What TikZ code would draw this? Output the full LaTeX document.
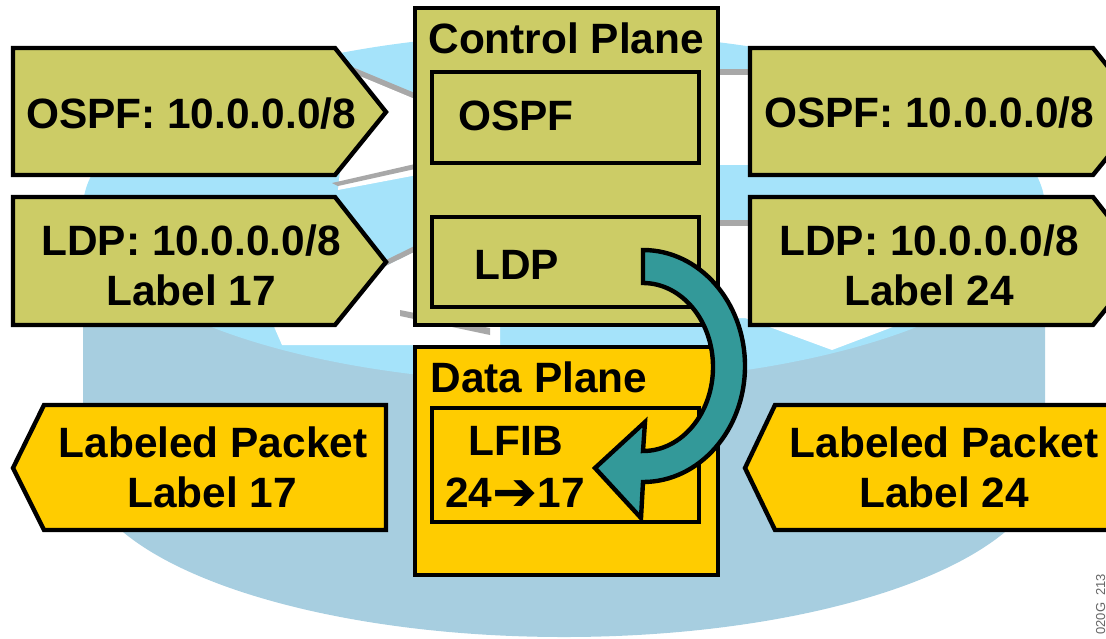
\documentclass[tikz,border=0pt]{standalone}
\usepackage{fontspec}
\setmainfont{Liberation Sans}
\newfontfamily\symfont{DejaVu Sans}
\usetikzlibrary{positioning}
\definecolor{olivefill}{HTML}{CCCC66}
\definecolor{goldfill}{HTML}{FFCC00}
\definecolor{tealfill}{HTML}{339999}
\definecolor{topblue}{HTML}{A5E3FA}
\definecolor{sideblue}{HTML}{A7CEE0}
\definecolor{shadowgrey}{HTML}{A8A8A8}
\tikzstyle{box}=[draw=black,line width=2.2pt,line join=miter]
\tikzstyle{txt}=[inner sep=0pt,anchor=base,font=\fontsize{21.2}{24}\selectfont\bfseries]

\begin{document}
\begin{tikzpicture}[x=0.5pt,y=-0.5pt]
\useasboundingbox (0,0) rectangle (1106,638);
\clip (0,0) rectangle (1106,638);
% router body
\fill[sideblue] (83,208) -- (83,462) arc[start angle=180,end angle=0,x radius=481,y radius=175] -- (1045,208) -- cycle;
\fill[topblue] (564,208) ellipse[x radius=481,y radius=175];
\begin{scope}
  \clip (564,208) ellipse[x radius=481,y radius=175];
  % arrows on top of the router
  \fill[shadowgrey] (350,66) -- (470,116) -- (470,124) -- (350,74) -- cycle;
  \fill[white] (350,72) -- (470,122) -- (470,165) -- (338,190) -- cycle;
  \fill[shadowgrey] (332,183) -- (415,164) -- (415,169) -- (338,186) -- cycle;
  \fill[shadowgrey] (500,204) -- (272,316) -- (272,322) -- (500,210) -- cycle;
  \fill[white] (500,210) -- (500,345) -- (282,345) -- (272,322) -- cycle;
  \fill[shadowgrey] (400,310) -- (490,328) -- (490,335) -- (400,316) -- cycle;
  \fill[shadowgrey] (700,69) -- (780,69) -- (780,75) -- (700,75) -- cycle;
  \fill[white] (700,75) -- (780,75) -- (780,165) -- (700,165) -- cycle;
  \fill[shadowgrey] (700,220) -- (765,220) -- (765,226) -- (700,226) -- cycle;
  \fill[white] (700,226) -- (765,226) -- (790,300) -- (906,322) -- (832,350) -- (745,318) -- (700,318) -- cycle;
\end{scope}

% incoming updates
\draw[box,fill=olivefill] (13,48) -- (335,48) -- (386,112) -- (335,175) -- (13,175) -- cycle;
\draw[box,fill=olivefill] (13,197) -- (335,197) -- (386,262) -- (335,325) -- (13,325) -- cycle;
\draw[box,fill=olivefill] (750,48) -- (1093,48) -- (1144,112) -- (1093,175) -- (750,175) -- cycle;
\draw[box,fill=olivefill] (750,197) -- (1093,197) -- (1144,262) -- (1093,325) -- (750,325) -- cycle;
\node[txt] (ospfL) at (191,128) {OSPF: 10.0.0.0/8};
\node[txt] (ldpL) at (191,255) {LDP: 10.0.0.0/8};
\node[txt] (lblL) at (191,305) {Label 17};
\node[txt] (ospfR) at (929,127) {OSPF: 10.0.0.0/8};
\node[txt] (ldpR) at (929,255) {LDP: 10.0.0.0/8};
\node[txt] (lblR) at (929,305) {Label 24};

% packets
\draw[box,fill=goldfill] (44,405) -- (386,405) -- (386,530) -- (44,530) -- (13,468) -- cycle;
\draw[box,fill=goldfill] (775,405) -- (1150,405) -- (1150,530) -- (775,530) -- (745,468) -- cycle;
\node[txt] (pktL) at (213,457) {Labeled Packet};
\node[txt] (pktlblL) at (212,507) {Label 17};
\node[txt] (pktR) at (944,457) {Labeled Packet};
\node[txt] (pktlblR) at (944,507) {Label 24};

% control plane
\draw[box,fill=olivefill] (415,8) rectangle (718,325);
\draw[box] (432,72) rectangle (699,163);
\draw[box] (432,217) rectangle (699,307);
\node[txt,anchor=base west] (ctrl) at (428,53) {Control Plane};
\node[txt,anchor=base west] (ospfC) at (458,130) {OSPF};
\node[txt,anchor=base west] (ldpC) at (474,279) {LDP};

% data plane
\draw[box,fill=goldfill] (415,347) rectangle (718,575);
\draw[box] (432,408) rectangle (699,522);
\node[txt,anchor=base west] (data) at (430,392) {Data Plane};
\node[txt,anchor=base west] (lfib) at (468,455) {LFIB};
\node[txt,anchor=base west] (lfibmap) at (445,507) {24\raisebox{-1.5pt}{\symfont\fontsize{27}{27}\selectfont ➔}17};

% LDP -> LFIB
\draw[box,fill=tealfill] (643,250) arc[start angle=-90,end angle=90,x radius=102,y radius=116]
  -- (641,518) -- (595,468) -- (645,422) -- (643,451)
  arc[start angle=90,end angle=-90,x radius=70,y radius=84] -- cycle;

\node[inner sep=0pt,rotate=90,anchor=base west,text=black!60,font=\fontsize{6.5}{7}\selectfont] (figid) at (1105,635) {020G\_213};
\end{tikzpicture}
\end{document}
